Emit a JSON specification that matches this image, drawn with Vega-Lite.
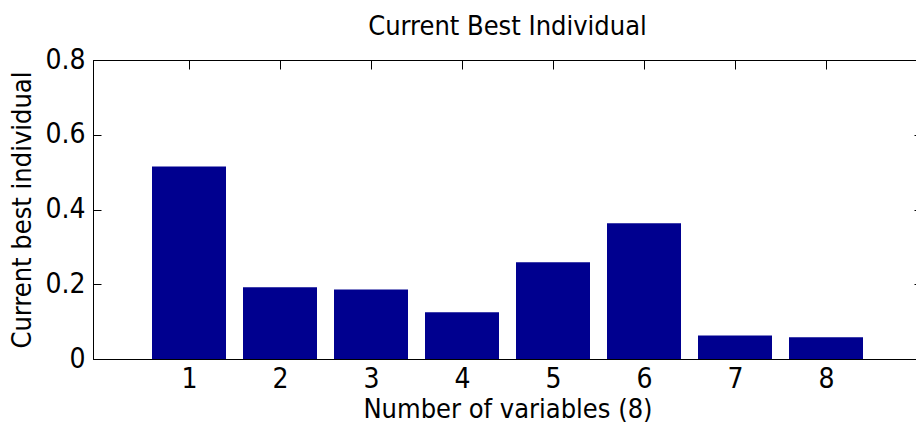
{
  "$schema": "https://vega.github.io/schema/vega-lite/v6.json",
  "autosize": "none",
  "width": 829,
  "height": 299,
  "padding": {"left": 93, "top": 60, "right": 0, "bottom": 81},
  "background": "white",
  "config": {
    "font": "DejaVu Sans Condensed, Liberation Sans, sans-serif",
    "view": {"stroke": "black", "strokeWidth": 1}
  },
  "title": {
    "text": "Current Best Individual",
    "font": "DejaVu Sans Condensed, Liberation Sans, sans-serif",
    "fontSize": 27,
    "fontWeight": "normal",
    "color": "black",
    "anchor": "middle",
    "offset": 5
  },
  "data": {
    "values": [
      {"variable": 1, "value": 0.515},
      {"variable": 2, "value": 0.192},
      {"variable": 3, "value": 0.186},
      {"variable": 4, "value": 0.125},
      {"variable": 5, "value": 0.259},
      {"variable": 6, "value": 0.363},
      {"variable": 7, "value": 0.063},
      {"variable": 8, "value": 0.058}
    ]
  },
  "layer": [
    {
      "mark": {"type": "bar", "color": "#00008F", "size": 74},
      "encoding": {
        "x": {
          "field": "variable",
          "type": "quantitative",
          "scale": {"domain": [0, 9], "nice": false, "zero": false},
          "axis": {
            "orient": "bottom",
            "values": [1, 2, 3, 4, 5, 6, 7, 8],
            "title": "Number of variables (8)",
            "titleFont": "DejaVu Sans Condensed, Liberation Sans, sans-serif",
            "titleFontSize": 27,
            "titleFontWeight": "normal",
            "titleColor": "black",
            "titlePadding": 3,
            "labelFont": "DejaVu Sans Condensed, Liberation Sans, sans-serif",
            "labelFontSize": 28,
            "labelColor": "black",
            "labelPadding": 15,
            "tickSize": -9,
            "tickColor": "black",
            "domainColor": "black",
            "grid": false
          }
        },
        "y": {
          "field": "value",
          "type": "quantitative",
          "scale": {"domain": [0, 0.8], "nice": false},
          "axis": {
            "orient": "left",
            "values": [0, 0.2, 0.4, 0.6, 0.8],
            "format": "~g",
            "title": "Current best individual",
            "titleFont": "DejaVu Sans Condensed, Liberation Sans, sans-serif",
            "titleFontSize": 27,
            "titleFontWeight": "normal",
            "titleColor": "black",
            "titlePadding": 8,
            "labelFont": "DejaVu Sans Condensed, Liberation Sans, sans-serif",
            "labelFontSize": 28,
            "labelColor": "black",
            "labelPadding": 16,
            "tickSize": -8,
            "tickColor": "black",
            "domainColor": "black",
            "grid": false
          }
        }
      }
    },
    {
      "mark": {"type": "bar", "opacity": 0, "size": 74},
      "encoding": {
        "x": {
          "field": "variable",
          "type": "quantitative",
          "axis": {
            "orient": "top",
            "values": [1, 2, 3, 4, 5, 6, 7, 8],
            "labels": false,
            "title": null,
            "tickSize": -9,
            "tickColor": "black",
            "domainColor": "black",
            "grid": false
          }
        },
        "y": {
          "field": "value",
          "type": "quantitative",
          "axis": {
            "orient": "right",
            "values": [0, 0.2, 0.4, 0.6, 0.8],
            "labels": false,
            "title": null,
            "tickSize": -8,
            "tickColor": "black",
            "domainColor": "black",
            "grid": false
          }
        }
      }
    }
  ],
  "resolve": {"axis": {"x": "independent", "y": "independent"}}
}
